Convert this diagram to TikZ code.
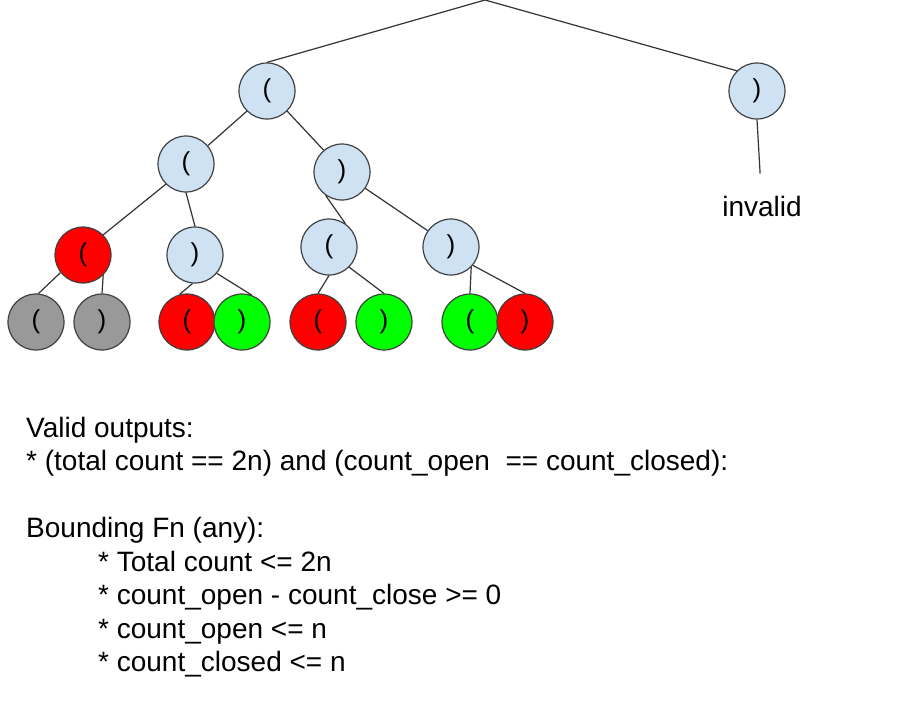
\documentclass[tikz,border=0pt]{standalone}
\usepackage{fontspec}
\setmainfont{Liberation Sans}
\usepackage{xcolor}
\usepackage{tikz}
\usetikzlibrary{positioning}

\definecolor{paleblue}{HTML}{CFE2F3}
\definecolor{badred}{HTML}{FF0000}
\definecolor{goodgreen}{HTML}{00FF00}
\definecolor{deadgray}{HTML}{999999}

\tikzset{
  paren/.style={circle, draw=black!75, line width=1.2pt, minimum size=56pt,
    inner sep=0pt, font=\fontsize{26}{26}\selectfont},
  edge/.style={draw=black!80, line width=1.2pt},
  txt/.style={anchor=base west, inner sep=0pt, font=\fontsize{28}{33}\selectfont}
}

\begin{document}
\begin{tikzpicture}[x=1pt, y=-1pt]
      \useasboundingbox (0,0) rectangle (922,705);

      \coordinate (root) at (485,0);

      % inner choices
      \node[paren, fill=paleblue] (A) at (267,91) {(};
      \node[paren, fill=paleblue] (B) at (757,91) {)};
      \node[paren, fill=paleblue] (C) at (186,164) {(};
      \node[paren, fill=paleblue] (D) at (342,172) {)};
      \node[paren, fill=badred] (E) at (83,255) {(};
      \node[paren, fill=paleblue] (F) at (195,255) {)};
      \node[paren, fill=paleblue] (G) at (329,247) {(};
      \node[paren, fill=paleblue] (H) at (451,247) {)};

      % leaves
      \foreach \n/\x/\c/\t in {l1/36/deadgray/(, l2/102/deadgray/),
                               l3/187/badred/(, l4/242/goodgreen/),
                               l5/318/badred/(, l6/384/goodgreen/),
                               l7/470/goodgreen/(, l8/525/badred/)}{
        \node[paren, fill=\c] (\n) at (\x,322) {\t};
      }

      \node[font=\fontsize{28}{33}\selectfont, anchor=base, inner sep=0pt,
            outer sep=22pt] (inv) at (762,216) {invalid};

      % connectors
      \foreach \a/\b in {root/A.north, root/B.135, A.225/C.40, A.-45/D.130,
                         C.225/E.45, C.south/F.north, D.235/G.55, D.-35/H.145,
                         E.218/l1.85, E.-45/l2.north, F.265/l3.105, F.-40/l4.70,
                         G.south/l5.north, G.-45/l6.north, H.-45/l7.north,
                         H.-40/l8.north, B.south/inv}{
        \draw[edge] (\a) -- (\b);
      }

      % conditions
      \node[txt] (valid) at (26,437) {Valid outputs:};
      \node[txt] (vrule) at (26,470.5) {* (total count == 2n) and (count\_open\ \ == count\_closed):};
      \node[txt] (bound) at (26,537.5) {Bounding Fn (any):};
      \node[txt] (b1) at (98,571) {* Total count <= 2n};
      \node[txt] (b2) at (98,604.5) {* count\_open - count\_close >= 0};
      \node[txt] (b3) at (98,638) {* count\_open <= n};
      \node[txt] (b4) at (98,671.5) {* count\_closed <= n};

\end{tikzpicture}
\end{document}
